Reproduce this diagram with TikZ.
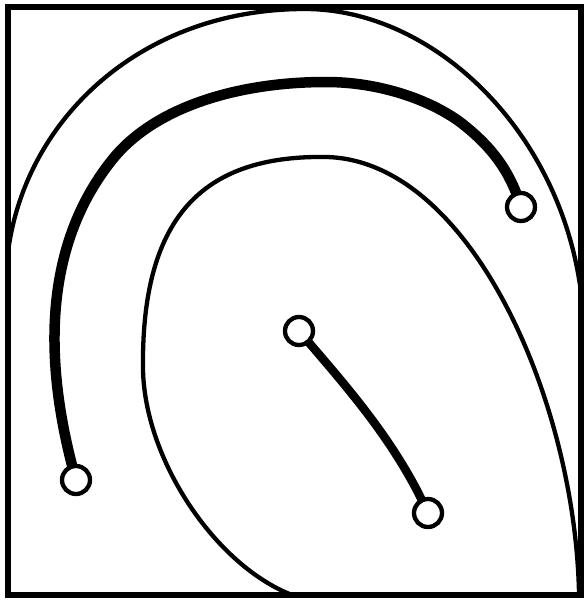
\documentclass[tikz,border=0pt]{standalone}
\begin{document}
\begin{tikzpicture}[x=1pt, y=-1pt,
  frame/.style={line width=6pt},
  wall/.style={line width=4.3pt, line cap=round, line join=round},
  track/.style={line width=10.5pt, line cap=round},
  link/.style={line width=8.5pt, line cap=round},
  dot/.style={circle, draw, line width=4.3pt, fill=white, minimum size=28pt, inner sep=0pt}]
  \useasboundingbox (0,0) rectangle (584,602);

  % box
  \draw[frame] (8,7) rectangle (581,595);

  % outer wall
  \draw[wall] (8,252) .. controls (25,120) and (140,9) .. (305,9)
    .. controls (430,9) and (556,125) .. (580,285);

  % inner wall
  \draw[wall] (292,595) .. controls (215,565) and (145,460) .. (143,370)
    .. controls (141,220) and (200,155) .. (326,157)
    .. controls (470,160) and (575,400) .. (579,593);

  % end points
  \coordinate (pL) at (76,480);
  \coordinate (pR) at (521,207);
  \coordinate (pC) at (299,331);
  \coordinate (pD) at (428,513);

  % long track
  \draw[track] (pL) .. controls (45,370) and (40,250) .. (112,160)
    .. controls (155,106) and (240,82) .. (326,82)
    .. controls (380,82) and (430,100) .. (460,122)
    .. controls (490,145) and (510,170) .. (pR);

  % short link
  \draw[link] (pC) .. controls (345,385) and (395,440) .. (pD);

  \node[dot] (dotL) at (pL) {};
  \node[dot] (dotR) at (pR) {};
  \node[dot] (dotC) at (pC) {};
  \node[dot] (dotD) at (pD) {};
\end{tikzpicture}
\end{document}
